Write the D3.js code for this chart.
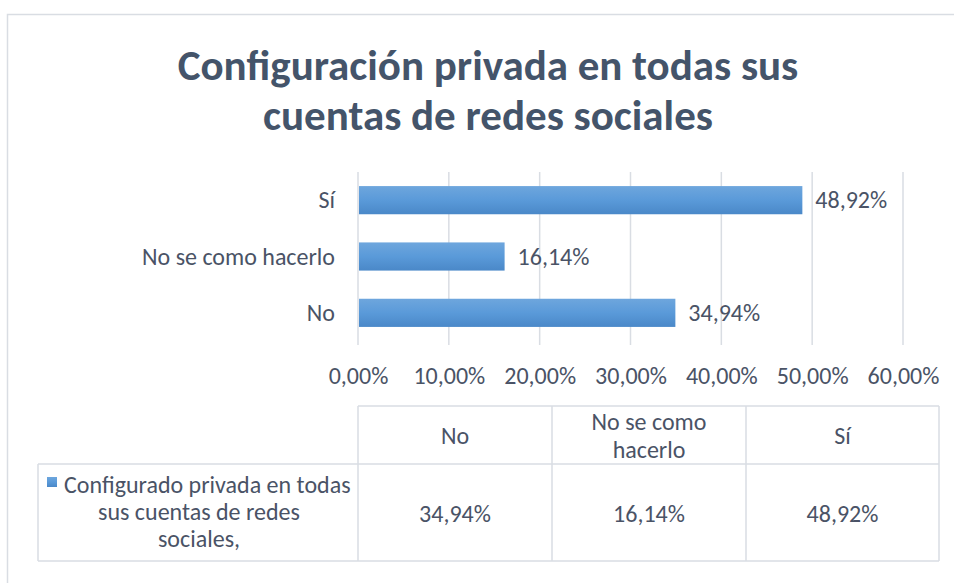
<!DOCTYPE html>
<html><head><meta charset="utf-8">
<script src="https://cdn.jsdelivr.net/npm/d3@7"></script>
<style>body{margin:0;background:#fff}svg{display:block}</style>
</head><body><svg id="c" width="954" height="583"></svg>
<script>
const titleLines = ["Configuración privada en todas sus", "cuentas de redes sociales"];
const categories = ["No", "No se como hacerlo", "Sí"];
const values = [34.94, 16.14, 48.92];
const tickValues = [0, 10, 20, 30, 40, 50, 60];
const seriesName = ["Configurado privada en todas", "sus cuentas de redes", "sociales,"];
const headerLabels = [["No"], ["No se como", "hacerlo"], ["Sí"]];

const FONT = "Carlito, Calibri, 'Open Sans', sans-serif";
const FS = 24;
const fmt = v => v.toFixed(2).replace(".", ",") + "%";
const svg = d3.select("#c");
const txt = "#4a5366";

// outer border
svg.append("rect").attr("x", 7.5).attr("y", 14.5).attr("width", 960).attr("height", 600)
  .attr("fill", "#fff").attr("stroke", "#d9dde3").attr("stroke-width", 1.5);

// gradient
const defs = svg.append("defs");
const g = defs.append("linearGradient").attr("id", "bg").attr("x1", 0).attr("x2", 0).attr("y1", 0).attr("y2", 1);
g.append("stop").attr("offset", "0%").attr("stop-color", "#6ea6dd");
g.append("stop").attr("offset", "50%").attr("stop-color", "#5a9ad9");
g.append("stop").attr("offset", "100%").attr("stop-color", "#4a88c8");

// title
svg.append("g").selectAll("text").data(titleLines).join("text")
  .attr("x", 488).attr("y", (d, i) => 80 + i * 50)
  .attr("text-anchor", "middle").attr("font-family", FONT).attr("font-weight", "bold")
  .attr("font-size", 43).attr("fill", "#44546a").text(d => d);

// scales
const x = d3.scaleLinear().domain([0, 60]).range([358, 903]);
const y = d3.scaleBand().domain(categories.slice().reverse()).range([172, 341]).paddingInner(0.5).paddingOuter(0.25);

// grid
svg.append("g").selectAll("line").data(tickValues).join("line")
  .attr("x1", d => x(d)).attr("x2", d => x(d)).attr("y1", 172).attr("y2", 345)
  .attr("stroke", "#d9dde3").attr("stroke-width", 1.5);

// bars
svg.append("g").selectAll("rect").data(categories).join("rect")
  .attr("x", x(0) + 1).attr("y", (d) => y(d)).attr("height", y.bandwidth())
  .attr("width", (d, i) => x(values[i]) - x(0) - 1).attr("fill", "url(#bg)");

// value labels
svg.append("g").selectAll("text").data(categories).join("text")
  .attr("x", (d, i) => x(values[i]) + 13).attr("y", d => y(d) + y.bandwidth() / 2 + 8)
  .attr("font-family", FONT).attr("font-size", FS).attr("fill", txt)
  .text((d, i) => fmt(values[i]));

// category labels
svg.append("g").selectAll("text").data(categories).join("text")
  .attr("x", 335).attr("y", d => y(d) + y.bandwidth() / 2 + 8).attr("text-anchor", "end")
  .attr("font-family", FONT).attr("font-size", FS).attr("fill", txt).text(d => d);

// x tick labels
const xAxis = d3.axisBottom(x).tickValues(tickValues).tickFormat(fmt).tickSize(0).tickPadding(0);
const ax = svg.append("g").attr("transform", "translate(0,367)").call(xAxis);
ax.select(".domain").remove();
ax.selectAll("text").attr("font-family", FONT).attr("font-size", FS).attr("fill", txt);

// data table
const colX = [358, 552, 746, 939];
const tbl = svg.append("g").attr("stroke", "#d9dde3").attr("stroke-width", 1.5);
tbl.append("line").attr("x1", 358).attr("x2", 939).attr("y1", 406).attr("y2", 406);
tbl.append("line").attr("x1", 38).attr("x2", 939).attr("y1", 464).attr("y2", 464);
tbl.append("line").attr("x1", 38).attr("x2", 939).attr("y1", 561).attr("y2", 561);
tbl.append("line").attr("x1", 38).attr("x2", 38).attr("y1", 464).attr("y2", 561);
tbl.selectAll(".v").data(colX).join("line").attr("class", "v")
  .attr("x1", d => d).attr("x2", d => d).attr("y1", 406).attr("y2", 561);

// header
headerLabels.forEach((lines, i) => {
  const cx = (colX[i] + colX[i + 1]) / 2;
  const y0 = 436 - (lines.length - 1) * 14 + 8;
  svg.append("g").selectAll("text").data(lines).join("text")
    .attr("x", cx).attr("y", (d, j) => y0 + j * 28).attr("text-anchor", "middle")
    .attr("font-family", FONT).attr("font-size", FS).attr("fill", txt).text(d => d);
});
// values row
svg.append("g").selectAll("text").data(values).join("text")
  .attr("x", (d, i) => (colX[i] + colX[i + 1]) / 2).attr("y", 522).attr("text-anchor", "middle")
  .attr("font-family", FONT).attr("font-size", FS).attr("fill", txt).text(d => fmt(d));

// legend marker
svg.append("rect").attr("x", 47).attr("y", 477).attr("width", 10).attr("height", 10).attr("fill", "url(#bg)");
svg.append("g").selectAll("text").data(seriesName).join("text")
  .attr("x", (d, i) => i === 0 ? 64 : 199).attr("y", (d, i) => 493 + i * 27)
  .attr("text-anchor", (d, i) => i === 0 ? "start" : "middle")
  .attr("font-family", FONT).attr("font-size", FS).attr("fill", txt).text(d => d);
</script></body></html>
